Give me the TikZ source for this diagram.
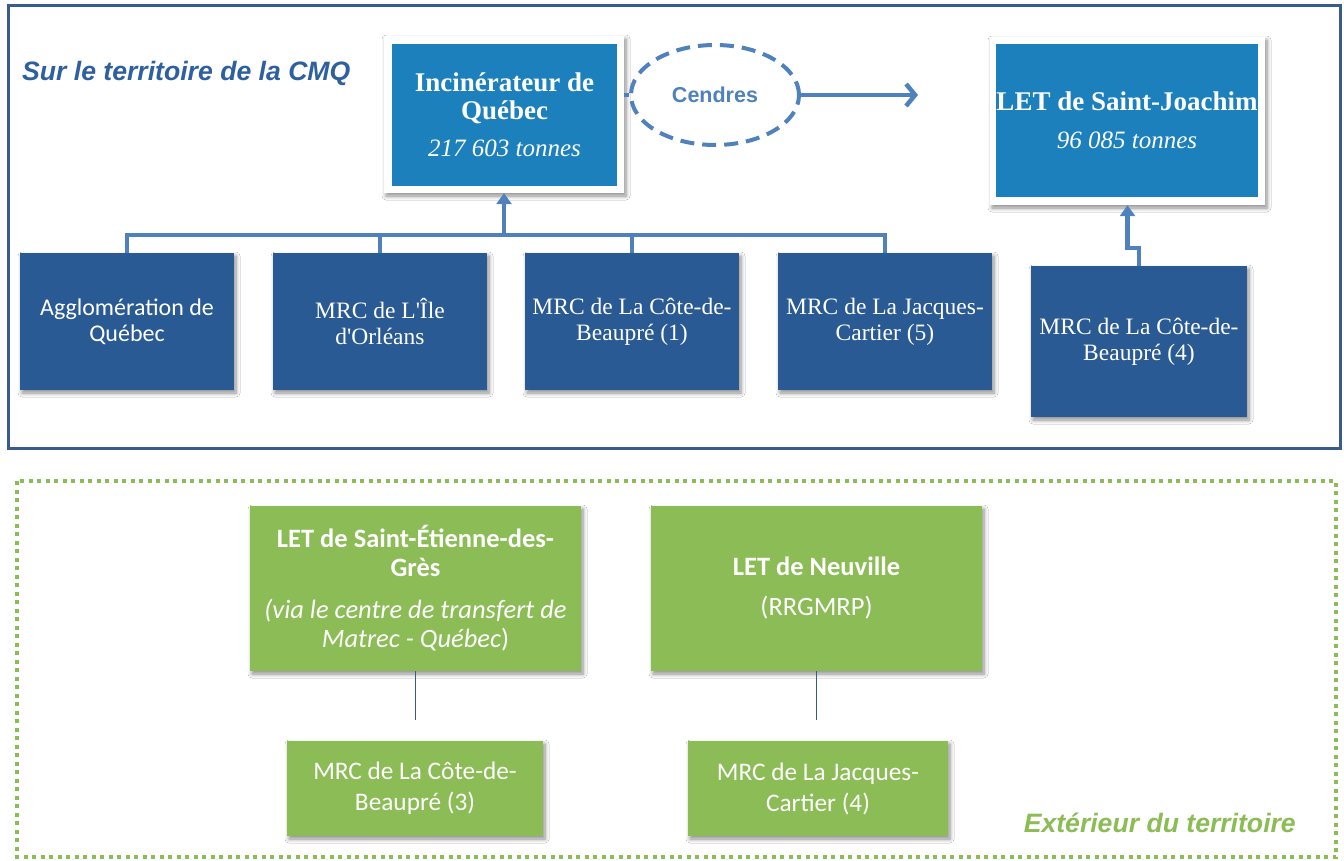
\documentclass[tikz,border=0pt]{standalone}
\usepackage{fontspec}
\setmainfont{Liberation Serif}
\newfontfamily\calib{Carlito}
\newfontfamily\arialf{Liberation Sans}
\usetikzlibrary{shadows,shadows.blur,arrows.meta,shapes.geometric,calc}

\definecolor{frameblue}{HTML}{3A5C8C}
\definecolor{topblue}{HTML}{1C80BC}
\definecolor{darkbox}{HTML}{2A5A93}
\definecolor{linkblue}{HTML}{4F81BD}
\definecolor{leafgreen}{HTML}{8BBC55}
\definecolor{titleblue}{HTML}{2E5F9F}
\definecolor{thinblue}{HTML}{3A5A8A}

\begin{document}
\begin{tikzpicture}[x=1pt,y=-1pt,
  softshadow/.style={blur shadow={shadow xshift=2pt,shadow yshift=-3pt,
    shadow blur radius=4pt,shadow blur steps=6,shadow opacity=45}},
  mount/.style={fill=white,softshadow,inner sep=0pt},
  facility/.style={fill=topblue,text=white,align=center,inner sep=0pt,
    font=\fontsize{27}{28}\selectfont\bfseries},
  member/.style={fill=darkbox,softshadow,text=white,align=center,inner sep=0pt,
    minimum width=214pt,minimum height=137pt,
    font=\fontsize{23.5}{26}\selectfont},
  greenbox/.style={fill=leafgreen,softshadow,text=white,align=center,inner sep=0pt,
    font=\calib\fontsize{26.5}{29}\selectfont},
  greenleaf/.style={greenbox,font=\calib\fontsize{25.3}{31}\selectfont},
  link/.style={draw=linkblue,line width=4.5pt},
  thinlink/.style={draw=thinblue,line width=1.5pt},
  sidetitle/.style={font=\arialf\bfseries\itshape\fontsize{26.6}{30}\selectfont,inner sep=0pt}
  ]
\useasboundingbox (0,0) rectangle (1344,861);
\fill[white] (0,0) rectangle (1344,861);

% Territory frames
\draw[frameblue,line width=3pt] (8,6) rectangle (1340,448);
\draw[leafgreen,line width=4pt,dash pattern=on 4pt off 4.5pt] (17,481) rectangle (1336,857);

\node[sidetitle,text=titleblue,anchor=west] (cmq) at (22,73) {Sur le territoire de la CMQ};
\node[sidetitle,text=leafgreen,anchor=east] (ext) at (1296,823) {Extérieur du territoire};

% Treatment sites: white mount with a blue panel
\node[mount,minimum width=240pt,minimum height=157pt] (incm) at (504,114.5) {};
\node[facility,minimum width=225pt,minimum height=142pt] (inc) at (504.5,115)
  {Incinérateur de\\Québec\\[9pt]
   \fontsize{25}{28}\selectfont\mdseries\itshape 217 603 tonnes};
\node[mount,minimum width=275pt,minimum height=168pt] (ljom) at (1127.5,121) {};
\node[facility,minimum width=260pt,minimum height=153pt] (ljo) at (1127,120.5)
  {LET de Saint-Joachim\\[10pt]
   \fontsize{25}{28}\selectfont\mdseries\itshape 96 085 tonnes};

\node[ellipse,draw=linkblue,line width=4pt,dash pattern=on 14pt off 8pt,
  minimum width=168pt,minimum height=100pt,inner sep=0pt,
  text=linkblue,font=\arialf\bfseries\fontsize{21.5}{24}\selectfont] (cendres) at (715,95) {Cendres};
\coordinate (ashend) at (918,95);

% Municipalities inside the territory
\node[member,font=\calib\fontsize{24}{26}\selectfont] (a1) at (127,321.5) {Agglomération de\\Québec};
\node[member] (a2) at (380,321.5) {MRC de L\textquotesingle Île\\d\textquotesingle Orléans};
\node[member] (a3) at (632,321.5) {MRC de La Côte-de-\\Beaupré (1)};
\node[member] (a4) at (885,321.5) {MRC de La Jacques-\\Cartier (5)};
\node[member,minimum width=216pt,minimum height=151pt] (a5) at (1139,341.5) {MRC de La Côte-de-\\Beaupré (4)};

% Sites outside the territory
\node[greenbox,minimum width=331pt,minimum height=165pt] (seg) at (415.5,588.5)
  {\bfseries LET de Saint-Étienne-des-\\ \bfseries Grès\\[13pt]
   \itshape (via le centre de transfert de\\ \itshape Matrec - Québec\upshape)};
\node[greenbox,minimum width=331pt,minimum height=165pt] (neu) at (816.5,588.5)
  {\bfseries LET de Neuville\\[11pt] (RRGMRP)};
\node[greenleaf,minimum width=256pt,minimum height=95pt] (b1) at (415,788.5)
  {MRC de La Côte-de-\\Beaupré (3)};
\node[greenleaf,minimum width=260pt,minimum height=95pt] (b2) at (818,788.5)
  {MRC de La Jacques-\\Cartier (4)};

% Connectors
\coordinate (bus) at (0,235);
\draw[link,line join=miter] (a1.north) -- (a1.north |- bus) -- (a4.north |- bus) -- (a4.north);
\draw[link] (a2.north) -- (a2.north |- bus);
\draw[link] (a3.north) -- (a3.north |- bus);
\draw[link,-{Triangle[length=11pt,width=15pt]}] (incm.south |- bus) -- (incm.south);
\draw[link,-{Triangle[length=11pt,width=15pt]},line join=miter] (a5.north) -- ++(0,-18) -| (ljom.south);
\draw[link] (incm.east |- cendres.west) -- (cendres.west);
\draw[link,-{Straight Barb[length=9pt,width=22pt]}] (cendres.east) -- (ashend);

\draw[thinlink] (seg.south) -- ++(0,49);
\draw[thinlink] (neu.south) -- ++(0,49);
\end{tikzpicture}
\end{document}
